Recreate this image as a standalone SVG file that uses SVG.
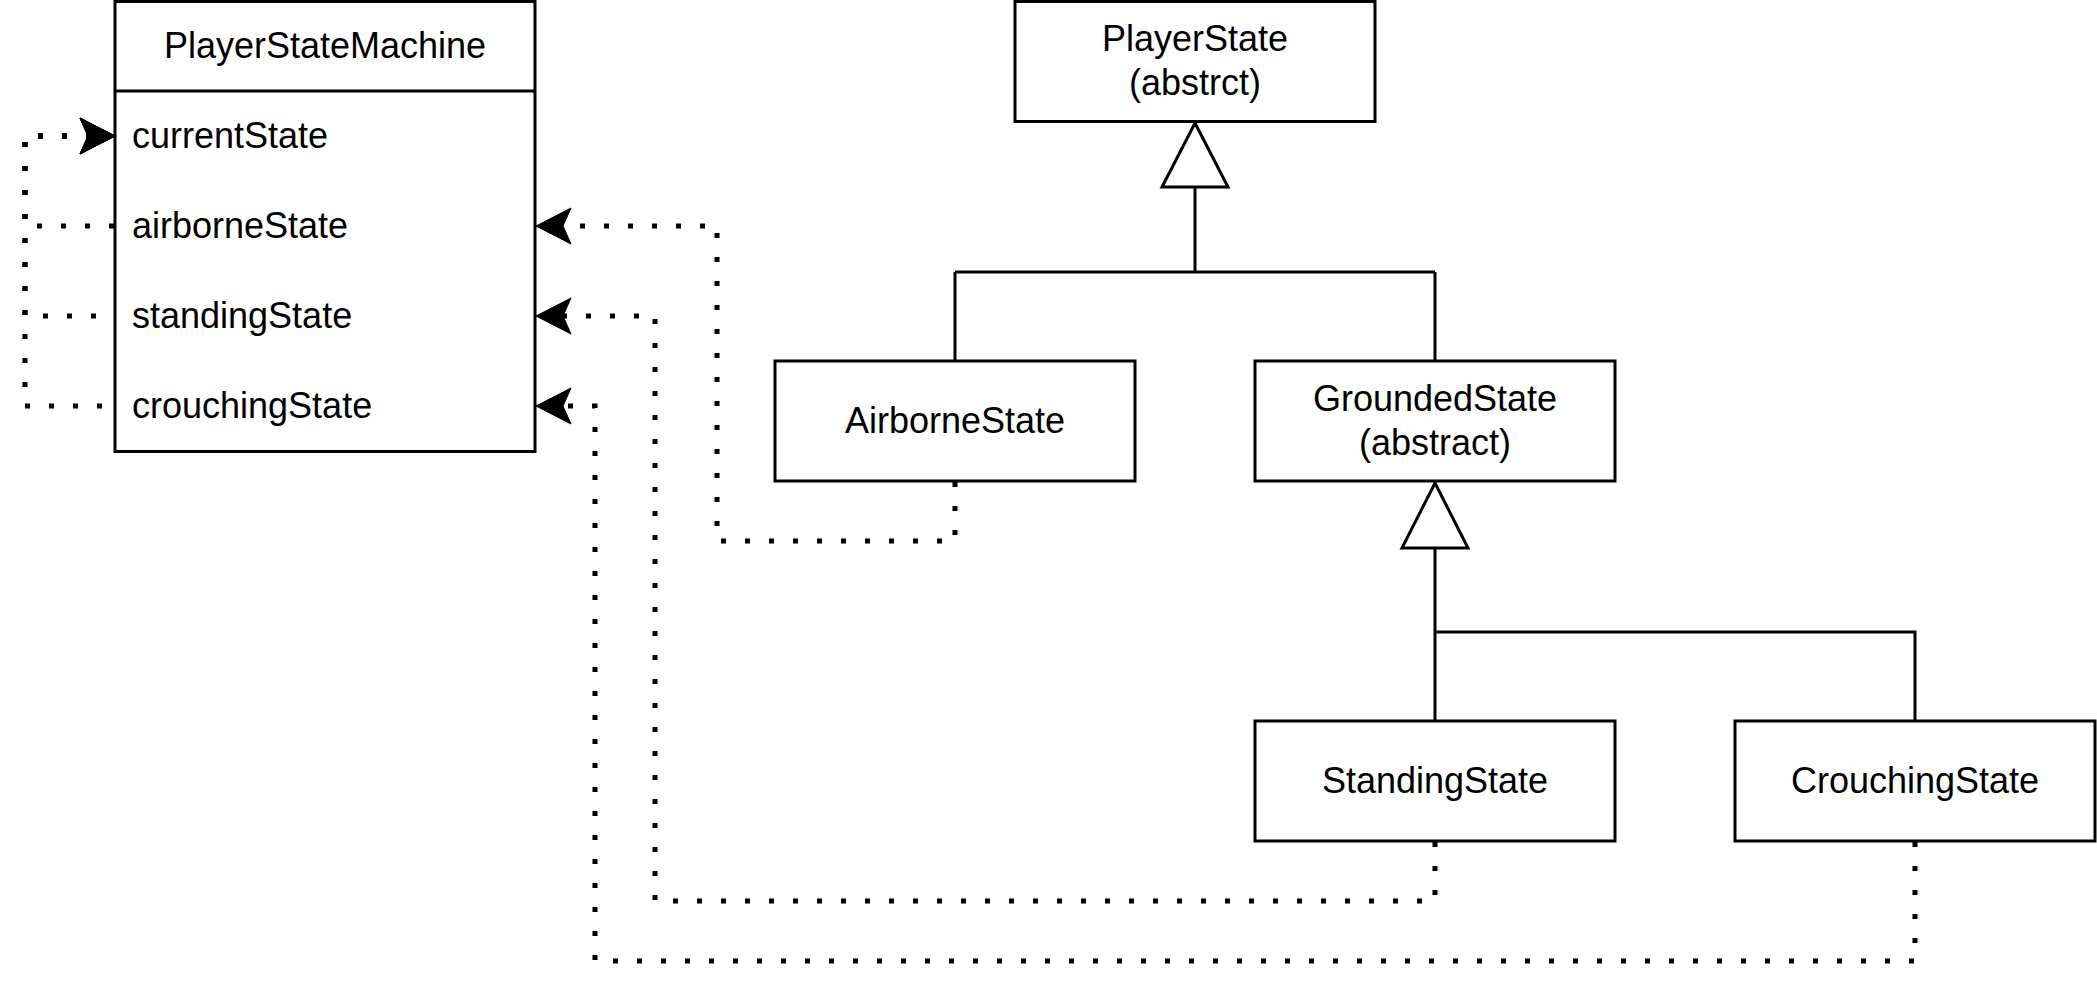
<svg xmlns="http://www.w3.org/2000/svg" width="2097" height="990" viewBox="0 0 2097 990">
<style>
.box{fill:#fff;stroke:#000;stroke-width:3}
.ln{fill:none;stroke:#000;stroke-width:3}
.tri{fill:#fff;stroke:#000;stroke-width:3;stroke-linejoin:miter}
.dot{fill:none;stroke:#000;stroke-width:5;stroke-dasharray:5 19;stroke-linecap:butt}
text{font-family:"Liberation Sans",Arial,sans-serif;font-size:36px;fill:#000}
.c{text-anchor:middle}
</style>
<defs>
<marker id="arr" markerUnits="userSpaceOnUse" viewBox="-10 -20 40 40" markerWidth="40" markerHeight="40" refX="0" refY="0" orient="auto" overflow="visible">
<path d="M27,0 L-8,-18 L0,0 L-8,18 Z" fill="#000" stroke="#000" stroke-width="1"/>
</marker>
</defs>
<rect width="2097" height="990" fill="#fff"/>
<g id="connectors">
<path class="ln" d="M1195,187 V272 M955,272 H1435 M955,272 V361 M1435,272 V361"/>
<polygon class="tri" points="1195,123 1228,187 1162,187"/>
<path class="ln" d="M1435,548 V632 H1915 V721 M1435,632 V721"/>
<polygon class="tri" points="1435,483 1468,548 1402,548"/>
<path class="dot" d="M955,482 V541 H717 V226 H563" marker-end="url(#arr)"/>
<path class="dot" d="M1435,842 V901 H655 V316 H563" marker-end="url(#arr)"/>
<path class="dot" d="M1915,842 V961 H595 V406 H563" marker-end="url(#arr)"/>
<path class="dot" d="M114,226 H25 V136 H88" marker-end="url(#arr)"/>
<path class="dot" style="stroke-dashoffset:6" d="M114,316 H25 V136 H88" marker-end="url(#arr)"/>
<path class="dot" style="stroke-dashoffset:12" d="M114,406 H25 V136 H88" marker-end="url(#arr)"/>
</g>
<g id="PlayerStateMachine">
<rect class="box" x="115" y="1.5" width="420" height="450"/>
<line class="ln" x1="115" y1="91" x2="535" y2="91"/>
<text class="c" x="325" y="58">PlayerStateMachine</text>
<text x="132" y="148">currentState</text>
<text x="132" y="238">airborneState</text>
<text x="132" y="328">standingState</text>
<text x="132" y="418">crouchingState</text>
</g>
<g id="PlayerState">
<rect class="box" x="1015" y="1.5" width="360" height="120"/>
<text class="c" x="1195" y="51">PlayerState</text>
<text class="c" x="1195" y="95">(abstrct)</text>
</g>
<g id="AirborneState">
<rect class="box" x="775" y="361" width="360" height="120"/>
<text class="c" x="955" y="433">AirborneState</text>
</g>
<g id="GroundedState">
<rect class="box" x="1255" y="361" width="360" height="120"/>
<text class="c" x="1435" y="411">GroundedState</text>
<text class="c" x="1435" y="455">(abstract)</text>
</g>
<g id="StandingState">
<rect class="box" x="1255" y="721" width="360" height="120"/>
<text class="c" x="1435" y="793">StandingState</text>
</g>
<g id="CrouchingState">
<rect class="box" x="1735" y="721" width="360" height="120"/>
<text class="c" x="1915" y="793">CrouchingState</text>
</g>
</svg>
